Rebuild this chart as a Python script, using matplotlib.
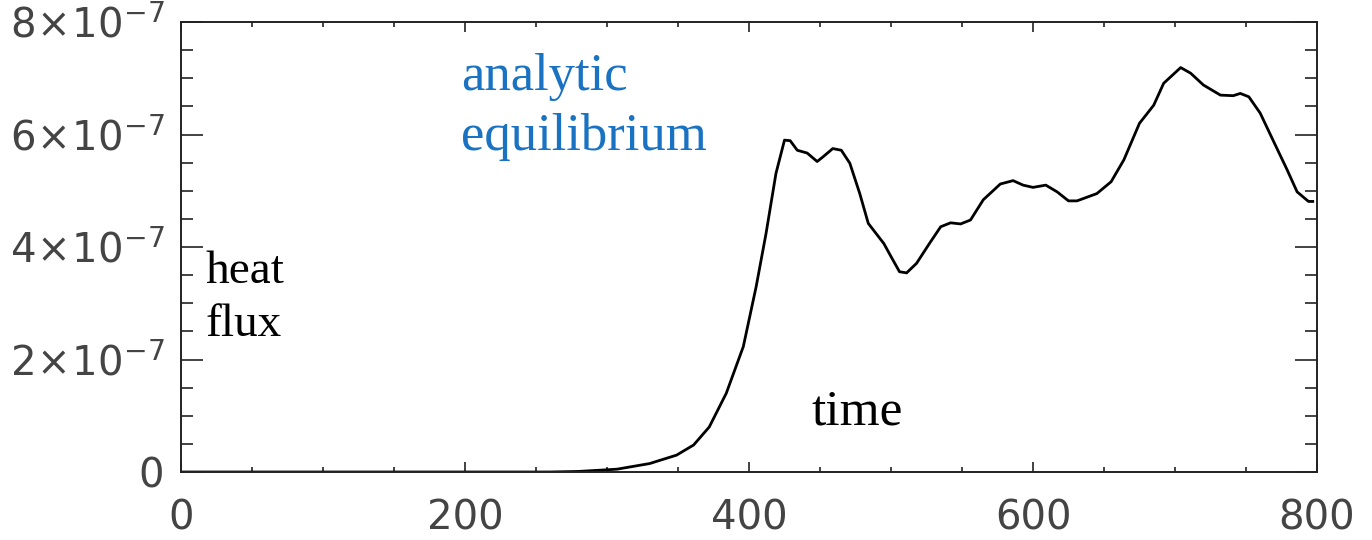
import matplotlib.pyplot as plt
import numpy as np
from matplotlib.ticker import MultipleLocator, FuncFormatter

# heat flux vs time (flux in units of 1e-7)
time = [0, 100, 200, 260, 280, 307, 330, 349, 361, 372, 384, 396, 405, 412,
        419, 425, 429, 434, 441, 448, 452, 459, 465, 471, 478, 484, 495, 500,
        506, 511, 518, 527, 535, 542, 549, 556, 565, 577, 586, 593, 600, 609,
        617, 625, 631, 645, 655, 664, 675, 685, 692, 704, 711, 720, 732, 741,
        746, 752, 760, 769, 779, 786, 794, 797]
flux = [0, 0, 0, 0, 0.01, 0.05, 0.15, 0.30, 0.48, 0.80, 1.40, 2.23, 3.29, 4.24,
        5.31, 5.90, 5.89, 5.72, 5.67, 5.52, 5.60, 5.75, 5.72, 5.49, 4.95, 4.42,
        4.06, 3.83, 3.56, 3.54, 3.71, 4.06, 4.36, 4.43, 4.41, 4.48, 4.84, 5.12,
        5.18, 5.10, 5.06, 5.10, 4.98, 4.82, 4.82, 4.95, 5.16, 5.55, 6.20, 6.52,
        6.91, 7.19, 7.09, 6.88, 6.70, 6.69, 6.73, 6.67, 6.38, 5.90, 5.37, 4.98,
        4.81, 4.81]

x_major = [0, 200, 400, 600, 800]
y_major = [0, 2, 4, 6, 8]

plt.rcParams["mathtext.fontset"] = "dejavusans"

fig = plt.figure(figsize=(13.72, 5.4), dpi=100)
ax = fig.add_axes([181 / 1372, 1 - 472 / 540, 1136 / 1372, 450 / 540])

ax.plot(time, np.array(flux) * 1e-7, color="black", lw=2.0,
        solid_joinstyle="round")

ax.set_xlim(0, 800)
ax.set_ylim(0, 8e-7)
ax.set_xticks(x_major)
ax.set_yticks([v * 1e-7 for v in y_major])
ax.xaxis.set_minor_locator(MultipleLocator(50))
ax.yaxis.set_minor_locator(MultipleLocator(0.5e-7))


def ylab(v, pos):
    n = int(round(v * 1e7))
    if n == 0:
        return "0"
    return r"$%d\!\times\!10^{-7}$" % n


ax.yaxis.set_major_formatter(FuncFormatter(ylab))

for s in ax.spines.values():
    s.set_linewidth(1.4)
    s.set_color("#222222")

ax.tick_params(axis="both", which="both", direction="in", top=True,
               right=True, color="#222222", width=1.2, labelcolor="#444444")
ax.tick_params(axis="y", which="major", length=16, pad=12, labelsize=29)
ax.tick_params(axis="y", which="minor", length=8.5)
ax.tick_params(axis="x", which="major", length=7, pad=19, labelsize=29)
ax.tick_params(axis="x", which="minor", length=3.6)

serif = "Liberation Serif"
ax.text(17, 3.36e-7, "heat", family=serif, fontsize=34, va="baseline")
ax.text(17, 2.42e-7, "flux", family=serif, fontsize=34, va="baseline")
ax.text(444, 0.84e-7, "time", family=serif, fontsize=37, va="baseline")
blue = "#1a73c2"
ax.text(197, 6.79e-7, "analytic", family=serif, fontsize=38, color=blue,
        va="baseline")
ax.text(197, 5.72e-7, "equilibrium", family=serif, fontsize=38, color=blue,
        va="baseline")

fig.savefig("out.png", dpi=100)
